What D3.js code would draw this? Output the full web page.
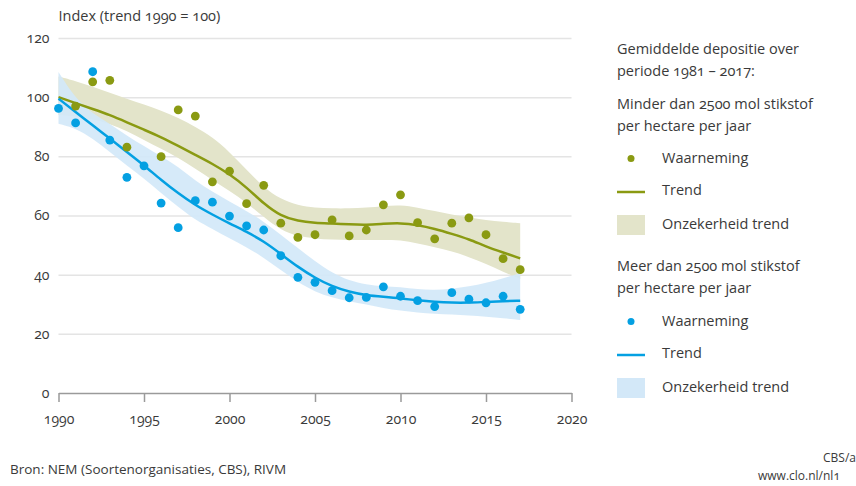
<!DOCTYPE html>
<html>
<head>
<meta charset="utf-8">
<script src="https://cdn.jsdelivr.net/npm/d3@7"></script>
<style>
  body { margin: 0; background: #fff; }
  svg, svg text { font-family: "Open Sans", "Noto Sans", sans-serif; font-feature-settings: "onum"; }
  text { fill: #3a3a3a; }
</style>
</head>
<body>
<script>
const W = 856
const H = 486
const margin = {top: 38, left: 58.5, bottom: 93, right: 284.5}
const green = '#8a9a12'
const blue = '#04a0e2'
const greenBand = '#e3e4ca'
const blueBand = '#d3e8f8'

const years = [1990, 1991, 1992, 1993, 1994, 1995, 1996, 1997, 1998, 1999, 2000, 2001, 2002, 2003,
               2004, 2005, 2006, 2007, 2008, 2009, 2010, 2011, 2012, 2013, 2014, 2015, 2016, 2017]

// minder dan 2500 mol (groen)
const greenObs = [null, 97, 105.2, 105.7, 83.1, null, 79.9, 95.7, 93.6, 71.4, 75.0, 64.0, 70.2, 57.4,
                  52.6, 53.5, 58.5, 53.1, 55.1, 63.6, 67.0, 57.6, 52.1, 57.4, 59.2, 53.5, 45.4, 41.7]
const greenTrend = [100, 98, 96, 94, 91.5, 89, 86.5, 83.5, 80.5, 77.5, 74, 69.5, 64, 59.8,
                    58.1, 57.5, 57.3, 57, 56.8, 57.2, 57.5, 56.8, 55.5, 53.8, 52, 49.5, 47.5, 45.5]
const greenHigh = [107, 105.5, 103.5, 101.5, 99.5, 97.5, 95.5, 93, 90, 86.5, 81.5, 75.5, 69.5, 65.5,
                   63.4, 62.6, 62.4, 62.4, 62.6, 63.2, 63.6, 62.7, 61.5, 60.3, 59.3, 58.5, 57.8, 57.4]
const greenLow = [94, 93.5, 92.5, 91, 88.6, 85.5, 82.6, 79.6, 75.8, 72, 68.3, 64.3, 59.5, 55,
                  53, 52.2, 51.8, 51.7, 51.7, 51.7, 51.7, 50.6, 49.3, 47.9, 46, 43.6, 41, 38.5]

// meer dan 2500 mol (blauw)
const blueObs = [96.2, 91.3, 108.6, 85.5, 72.9, 76.8, 64.2, 55.9, 65, 64.5, 59.8, 56.5, 55.1, 46.4,
                 39.1, 37.4, 34.6, 32.2, 32.3, 35.9, 32.7, 31.2, 29.2, 33.9, 31.7, 30.5, 32.7, 28.3]
const blueTrend = [99.5, 95, 90.5, 86, 81.5, 77, 72, 67.5, 63.5, 60.3, 57.3, 54.5, 51.3, 47,
                   42.6, 38.9, 36, 34.2, 33, 32.5, 32, 31.3, 30.8, 30.5, 30.5, 30.8, 31, 31.2]
const blueHigh = [108.5, 99.5, 94.5, 91, 87, 83.5, 80, 76.5, 71.8, 68, 64.7, 61.5, 58, 53.5,
                  49, 44.5, 40.6, 38, 36.6, 36, 35.9, 35, 34.8, 35.2, 36, 37.2, 38.8, 40.5]
const blueLow = [91, 89.5, 86, 81.5, 76.8, 72.5, 67.5, 63, 58.5, 55.5, 52.3, 49.3, 45.8, 41.5,
                 37.5, 34.2, 32.3, 31, 30, 28.7, 27.8, 27.2, 26.8, 26.5, 26.2, 25.8, 25.3, 24.7]

const xTicks = [1990, 1995, 2000, 2005, 2010, 2015, 2020]
const yTicks = [0, 20, 40, 60, 80, 100, 120]

const x = d3.scaleLinear().domain([1990, 2020]).range([margin.left, W - margin.right])
const y = d3.scaleLinear().domain([0, 120]).range([H - margin.bottom, margin.top])

let svg = d3.select('body').append('svg')
            .attr('width', W)
            .attr('height', H)

// gridlines + y labels
let gy = svg.append('g')
            .attr('transform', `translate(${margin.left}, 0)`)
            .call(d3.axisLeft(y).tickValues(yTicks).tickSize(-(W - margin.left - margin.right)).tickPadding(9))
gy.attr('font-family', null)
gy.select('.domain').remove()
gy.selectAll('.tick line').attr('stroke', '#e4e4e4').attr('stroke-width', 1.5)
gy.selectAll('.tick line').filter(d => d === 0).remove()
gy.selectAll('.tick text').style('font-size', '14px').attr('fill', '#3a3a3a')

// x axis
let gx = svg.append('g')
            .attr('transform', `translate(0, ${y(0)})`)
            .call(d3.axisBottom(x).tickValues(xTicks).tickFormat(d3.format('d')).tickSize(9).tickPadding(12).tickSizeOuter(0))
gx.attr('font-family', null)
gx.select('.domain').attr('stroke', '#9a9a9a').attr('stroke-width', 1.5)
gx.selectAll('.tick line').attr('stroke', '#9a9a9a').attr('stroke-width', 1.5)
gx.selectAll('.tick text').style('font-size', '14px').attr('fill', '#3a3a3a')

svg.append('text')
   .attr('x', margin.left)
   .attr('y', 21)
   .style('font-size', '14.5px')
   .text('Index (trend 1990 = 100)')

const idx = years.map((d, i) => i)

const area = (lo, hi) => d3.area()
  .x(i => x(years[i]))
  .y0(i => y(lo[i]))
  .y1(i => y(hi[i]))
  .curve(d3.curveBasis)

const line = vals => d3.line()
  .x(i => x(years[i]))
  .y(i => y(vals[i]))
  .curve(d3.curveBasis)

svg.append('path').datum(idx).attr('d', area(greenLow, greenHigh)).attr('fill', greenBand)
svg.append('path').datum(idx).attr('d', area(blueLow, blueHigh)).attr('fill', blueBand).attr('fill-opacity', 0.92)

svg.append('path').datum(idx).attr('d', line(greenTrend)).attr('fill', 'none').attr('stroke', green).attr('stroke-width', 2.5)
svg.append('path').datum(idx).attr('d', line(blueTrend)).attr('fill', 'none').attr('stroke', blue).attr('stroke-width', 2.5)

svg.selectAll('.gdot')
   .data(idx.filter(i => greenObs[i] !== null))
   .enter()
   .append('circle')
   .attr('cx', i => x(years[i]))
   .attr('cy', i => y(greenObs[i]))
   .attr('r', 4.4)
   .attr('fill', green)

svg.selectAll('.bdot')
   .data(idx.filter(i => blueObs[i] !== null))
   .enter()
   .append('circle')
   .attr('cx', i => x(years[i]))
   .attr('cy', i => y(blueObs[i]))
   .attr('r', 4.4)
   .attr('fill', blue)

// legend
const lx = 617
let lg = svg.append('g').style('font-size', '14.5px')
const legText = [
  ['Gemiddelde depositie over', 54],
  ['periode 1981 – 2017:', 76],
  ['Minder dan 2500 mol stikstof', 109],
  ['per hectare per jaar', 131],
  ['Meer dan 2500 mol stikstof', 271],
  ['per hectare per jaar', 293]
]
legText.forEach(t => lg.append('text').attr('x', lx).attr('y', t[1]).text(t[0]))

const legItems = [
  {c: green, band: greenBand, top: 163},
  {c: blue, band: blueBand, top: 326}
]
legItems.forEach(it => {
  lg.append('circle').attr('cx', lx + 14).attr('cy', it.top - 4.5).attr('r', 3.5).attr('fill', it.c)
  lg.append('text').attr('x', lx + 45).attr('y', it.top).text('Waarneming')
  lg.append('line').attr('x1', lx).attr('x2', lx + 28).attr('y1', it.top + 29).attr('y2', it.top + 29)
    .attr('stroke', it.c).attr('stroke-width', 2.5)
  lg.append('text').attr('x', lx + 45).attr('y', it.top + 32).text('Trend')
  lg.append('rect').attr('x', lx).attr('y', it.top + 52).attr('width', 28).attr('height', 20).attr('fill', it.band)
  lg.append('text').attr('x', lx + 45).attr('y', it.top + 66).text('Onzekerheid trend')
})

// bron
svg.append('text').attr('x', 10).attr('y', 474).style('font-size', '13.5px')
   .text('Bron: NEM (Soortenorganisaties, CBS), RIVM')
svg.append('text').attr('x', 823).attr('y', 462).style('font-size', '12px').text('CBS/a')
svg.append('text').attr('x', 758).attr('y', 480).style('font-size', '12px').text('www.clo.nl/nl1')
</script>
</body>
</html>
